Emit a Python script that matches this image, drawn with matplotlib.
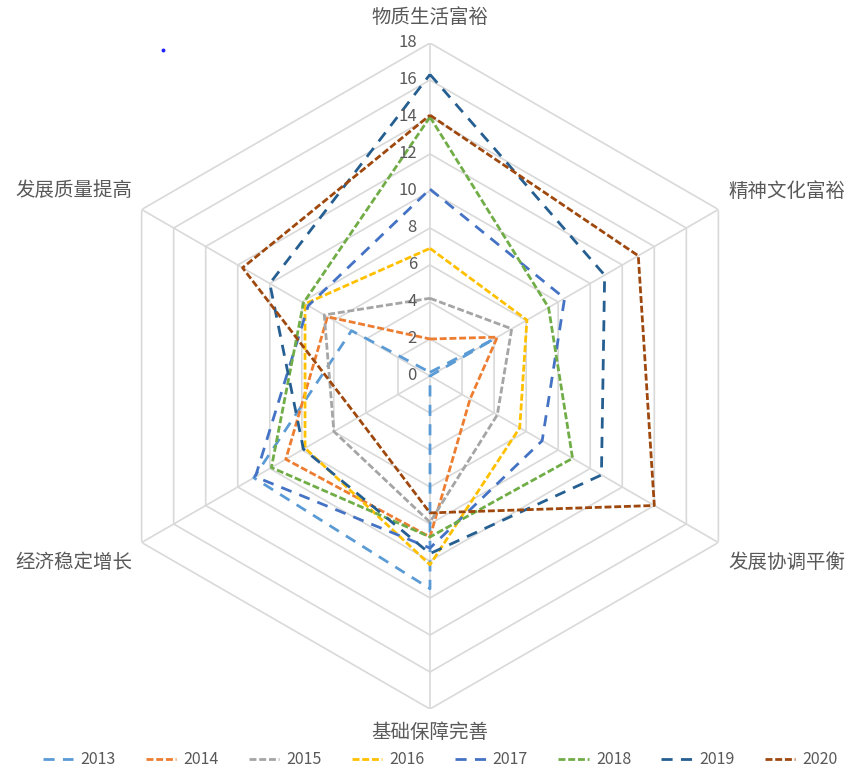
import numpy as np
import matplotlib
matplotlib.use("Agg")
import matplotlib.pyplot as plt
from matplotlib.lines import Line2D
import matplotlib.transforms as mtransforms

plt.rcParams['font.family'] = ['Noto Sans CJK SC', 'DejaVu Sans']

categories = ['物质生活富裕', '精神文化富裕', '发展协调平衡', '基础保障完善', '经济稳定增长', '发展质量提高']
years = ['2013', '2014', '2015', '2016', '2017', '2018', '2019', '2020']
v2013 = [0.2, 4.0, 0.0, 11.5, 11.0, 4.9]
v2014 = [2.0, 4.2, 2.5, 8.7, 9.0, 6.4]
v2015 = [4.2, 5.1, 4.2, 7.9, 6.0, 6.6]
v2016 = [6.9, 6.05, 5.6, 10.2, 7.8, 7.8]
v2017 = [10.1, 8.4, 7.0, 9.3, 10.9, 7.6]
v2018 = [14.0, 7.4, 8.9, 8.7, 9.9, 7.9]
v2019 = [16.3, 10.9, 10.7, 9.6, 7.9, 10.0]
v2020 = [14.1, 13.0, 14.0, 7.4, 4.5, 11.7]
ticks = [0, 2, 4, 6, 8, 10, 12, 14, 16, 18]

series = [v2013, v2014, v2015, v2016, v2017, v2018, v2019, v2020]
colors = ['#5B9BD5', '#ED7D31', '#A5A5A5', '#FFC000', '#4472C4', '#70AD47', '#255E91', '#9E480E']
dashes = [(4, 3), (2.5, 1), (2.5, 1), (2.5, 1), (4, 3), (2.5, 1), (4, 3), (2.5, 1)]

W, H = 851, 771
fig = plt.figure(figsize=(W / 100, H / 100), dpi=100)
cx, cy, R = 430, 376, 333
ax = fig.add_axes([(cx - R) / W, (H - cy - R) / H, 2 * R / W, 2 * R / H], projection='polar')
ax.set_theta_offset(np.pi / 2)
ax.set_theta_direction(-1)
ax.set_ylim(0, 18)
ax.grid(False)
ax.spines['polar'].set_visible(False)
ax.set_xticks([])
ax.set_yticks([])
ax.patch.set_alpha(0)

n = len(categories)
theta = np.arange(n) * 2 * np.pi / n
theta_c = np.append(theta, theta[0])

grid_color = '#D9D9D9'
for t in ticks[1:]:
    ax.plot(theta_c, [t] * (n + 1), color=grid_color, lw=1.2, zorder=1)
for th in theta:
    ax.plot([th, th], [0, 18], color=grid_color, lw=1.2, zorder=1)

for vals, col, d, yr in zip(series, colors, dashes, years):
    ax.plot(theta_c, vals + [vals[0]], color=col, lw=2, linestyle=(0, d), label=yr, zorder=3)

off = mtransforms.offset_copy(ax.transData, fig=fig, x=-13, y=0, units='dots')
for t in ticks:
    ax.text(0, t, str(t), transform=off, ha='right', va='center', fontsize=12, color='#595959', zorder=4)

label_pos = [(430, 17), (787, 191), (787, 562), (430, 733), (74, 562), (74, 191)]
for lab, (px, py) in zip(categories, label_pos):
    fig.text(px / W, 1 - py / H, lab, ha='center', va='center', fontsize=14, color='#595959')

handles = [Line2D([0], [0], color=c, lw=2, linestyle=(0, d)) for c, d in zip(colors, dashes)]
fig.legend(handles, years, loc='center', bbox_to_anchor=(440 / W, 1 - 760 / H), ncol=8, frameon=False,
           fontsize=11.5, handlelength=1.9, handletextpad=0.45, columnspacing=1.9, labelcolor='#595959')

fig.add_artist(Line2D([163 / W], [1 - 50 / H], marker='o', markersize=1.8, color='#2020FF', transform=fig.transFigure))

fig.savefig('out.png', dpi=100)
